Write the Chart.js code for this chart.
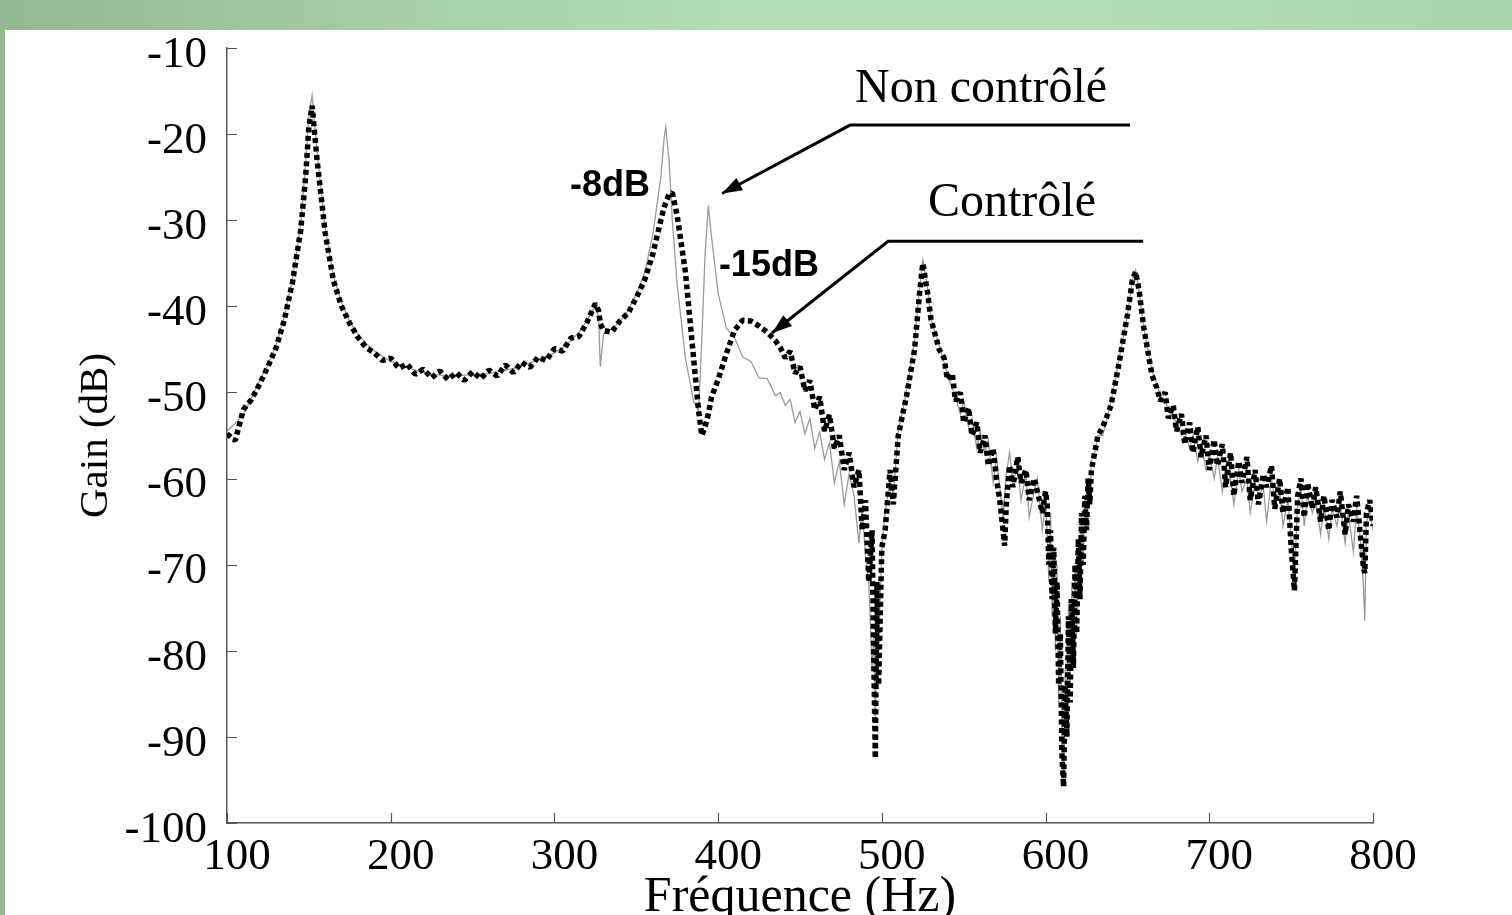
<!DOCTYPE html>
<html>
<head>
<meta charset="utf-8">
<script src="https://cdn.jsdelivr.net/npm/chart.js@4.4.1/dist/chart.umd.min.js"></script>
<style>
  html, body { margin: 0; padding: 0; width: 1512px; height: 915px; overflow: hidden; background: #fff; }
  #topbar { position: absolute; left: 0; top: 0; width: 1512px; height: 30px;
    background: linear-gradient(to right, #93b791 0%, #a9d1aa 30%, #b4deb5 50%, #b2dcb3 80%, #aad4ab 100%); }
  #leftbar { position: absolute; left: 0; top: 30px; width: 5px; height: 885px; background: #93b791; }
  #wrap { position: absolute; left: 5px; top: 30px; width: 1507px; height: 920px; }
</style>
</head>
<body>
<div id="topbar"></div>
<div id="leftbar"></div>
<div id="wrap"><canvas id="chart" width="1507" height="920"></canvas></div>
<script>
// frequencies (Hz)
const frequences = [
  100,105,110,115,120,125,130,135,140,145,
  148,150,152,155,160,165,170,175,180,185,
  190,195,200,205,210,215,220,225,230,235,
  240,245,250,255,260,265,270,275,280,285,
  290,295,300,305,310,315,320,325,327,328,
  330,335,340,345,350,355,360,365,367,368,
  370,372,375,380,385,388,390,392,394,396,
  400,405,410,415,420,425,430,435,
  438,441,444,447,450,453,456,459,462,465,468,471,474,
  477,480,483,486,488,490,492,494,495,496,497,498,500,
  502,505,507,510,515,520,523,525,528,530,535,
  538,540,543,545,548,550,553,555,558,560,563,565,568,570,
  572,574,575,576,578,580,583,585,588,590,593,595,598,600,
  601,602,603,604,605,606,607,608,609,610,611,612,613,614,615,
  616,617,618,619,620,621,622,623,624,625,626,627,628,630,632,
  635,640,645,650,653,655,657,660,665,
  668,670,673,675,678,680,683,685,688,690,
  693,695,698,700,703,705,708,710,713,715,
  718,720,723,725,728,730,733,735,738,740,
  743,745,748,750,752,754,756,758,760,763,
  765,768,770,773,775,778,780,783,785,788,
  790,792,794,795,796,798,800
];
// gain without control (dB)
const gainNonControle = [
  -54.5,-53.6,-52.6,-50.6,-48.6,-46.8,-44.5,-41.2,-36.8,-30.5,
  -23.5,-17.8,-15.5,-22.0,-31.0,-36.5,-39.6,-41.8,-43.2,-44.3,
  -45.2,-45.8,-46.4,-46.8,-47.1,-47.4,-47.7,-47.9,-48.0,-48.1,
  -48.1,-48.0,-48.0,-47.9,-47.8,-47.6,-47.4,-47.2,-46.9,-46.6,
  -46.2,-45.8,-45.4,-44.8,-44.0,-43.0,-41.6,-40.0,-41.2,-47.0,
  -43.2,-42.6,-41.8,-40.5,-38.6,-36.2,-31.8,-25.0,-20.5,-19.2,
  -23.0,-30.0,-37.5,-46.0,-51.0,-52.2,-44.0,-34.0,-28.3,-32.0,
  -38.5,-42.5,-43.6,-45.9,-46.4,-48.3,-48.4,-50.4,
  -50.0,-51.5,-50.8,-53.5,-52.2,-54.8,-53.0,-56.5,-54.6,-57.8,-55.8,-60.5,-58.0,
  -63.0,-59.5,-62.0,-67.5,-63.5,-69.0,-72.0,-82.0,-78.0,-88.0,-74.0,-80.0,-68.0,
  -64.0,-60.0,-62.0,-54.5,-50.0,-44.0,-38.0,-34.6,-38.0,-41.5,-44.5,
  -46.5,-48.0,-49.5,-50.5,-52.5,-51.0,-54.0,-53.0,-56.5,-54.5,-57.0,-55.5,-60.5,-57.5,
  -61.0,-64.5,-62.0,-59.5,-57.0,-60.5,-58.5,-62.5,-59.5,-64.5,-61.5,-60.0,-66.0,-63.0,
  -66.0,-72.0,-64.0,-76.0,-68.0,-80.0,-70.0,-86.0,-76.0,-90.0,-95.5,-82.0,-88.0,-74.0,-84.0,
  -72.0,-80.0,-70.0,-78.0,-68.0,-74.0,-64.0,-70.0,-62.0,-66.0,-60.0,-63.0,-58.0,-57.0,-55.0,
  -55.0,-51.0,-46.0,-41.0,-37.0,-35.8,-38.0,-42.5,-47.5,
  -49.0,-50.5,-51.0,-52.0,-53.0,-53.5,-55.0,-54.5,-56.5,-55.0,
  -58.0,-56.0,-59.0,-57.0,-60.0,-57.5,-61.5,-58.5,-60.0,-63.0,
  -59.0,-61.5,-60.0,-64.0,-60.5,-62.0,-61.0,-65.0,-60.0,-62.5,
  -61.5,-65.5,-62.5,-67.0,-71.0,-63.0,-61.0,-65.5,-62.0,-64.0,
  -62.5,-66.5,-63.0,-67.0,-63.5,-65.5,-63.0,-67.5,-64.0,-68.5,
  -63.5,-66.5,-72.0,-76.5,-65.0,-64.0,-66.0
];
// gain with control (dB)
const gainControle = [
  -54.8,-55.6,-52.0,-50.8,-49.0,-47.0,-44.8,-41.6,-37.2,-31.2,
  -25.0,-19.2,-16.7,-23.0,-31.5,-37.0,-40.0,-42.0,-43.6,-44.8,
  -45.4,-46.3,-46.0,-47.2,-46.7,-47.9,-47.3,-48.3,-47.5,-48.5,
  -47.7,-48.6,-47.6,-48.4,-47.4,-48.1,-46.8,-47.7,-46.5,-47.1,
  -45.9,-46.3,-44.9,-45.2,-43.7,-43.5,-41.8,-39.7,-40.5,-42.0,
  -42.8,-43.0,-41.7,-40.8,-39.0,-37.0,-34.0,-30.0,-28.5,-28.0,
  -27.0,-26.8,-29.5,-36.0,-46.0,-52.0,-55.0,-54.0,-52.5,-50.5,
  -48.5,-45.5,-42.8,-41.6,-41.7,-42.3,-43.0,-44.0,
  -44.8,-46.0,-45.2,-47.8,-47.0,-49.8,-48.6,-52.0,-50.5,-54.5,-52.6,-56.5,-55.0,
  -59.0,-57.0,-61.0,-59.0,-66.0,-62.5,-72.0,-66.0,-80.0,-92.5,-72.0,-84.0,-68.0,
  -66.0,-59.0,-63.0,-55.0,-50.5,-45.0,-38.5,-35.0,-38.5,-41.5,-45.0,
  -46.0,-48.5,-47.8,-51.0,-50.0,-53.5,-51.8,-55.0,-53.5,-57.0,-55.0,-58.5,-56.5,-60.0,
  -62.5,-66.0,-67.8,-63.0,-58.5,-61.0,-57.5,-60.5,-59.0,-62.5,-60.0,-61.5,-64.0,-61.5,
  -63.0,-70.0,-66.0,-74.0,-68.0,-78.0,-72.0,-84.0,-78.0,-92.0,-95.8,-84.0,-90.0,-76.0,-86.0,
  -74.0,-82.0,-70.0,-78.0,-67.0,-74.0,-64.0,-70.0,-62.0,-66.0,-60.0,-63.0,-59.0,-57.0,-55.0,
  -54.0,-51.5,-46.5,-41.0,-37.0,-36.0,-38.0,-42.5,-48.0,
  -49.5,-51.0,-50.0,-53.0,-51.5,-54.5,-52.5,-56.0,-53.5,-57.0,
  -54.0,-57.5,-55.0,-59.0,-55.5,-58.5,-56.0,-61.0,-57.0,-62.0,
  -58.0,-60.5,-57.5,-62.5,-59.0,-63.0,-59.5,-61.0,-58.5,-63.5,
  -60.0,-64.0,-61.0,-68.0,-73.0,-62.0,-60.0,-64.5,-60.5,-63.5,
  -61.0,-65.0,-62.0,-66.0,-62.5,-64.5,-61.5,-66.5,-63.0,-65.0,
  -62.0,-66.0,-70.0,-71.0,-64.0,-62.5,-65.5
];

const serif = "'Liberation Serif', 'Times New Roman', serif";
const sans = "'Liberation Sans', Arial, sans-serif";

// draw the small tick marks inside the plot
const insideTicks = {
  id: "insideTicks",
  afterDraw(chart) {
    const ctx = chart.ctx;
    const xs = chart.scales.x, ys = chart.scales.y;
    const area = chart.chartArea;
    ctx.save();
    ctx.strokeStyle = "#555";
    ctx.lineWidth = 1.2;
    ctx.beginPath();
    xs.ticks.forEach(t => {
      const px = Math.round(xs.getPixelForValue(t.value)) + 0.5;
      ctx.moveTo(px, area.bottom);
      ctx.lineTo(px, area.bottom - 10);
    });
    ys.ticks.forEach(t => {
      const py = Math.round(ys.getPixelForValue(t.value)) + 0.5;
      ctx.moveTo(area.left, py);
      ctx.lineTo(area.left + 10, py);
    });
    ctx.stroke();
    ctx.restore();
  }
};

// labels and arrows pointing to the curves
const notes = {
  id: "notes",
  afterDraw(chart) {
    const ctx = chart.ctx;
    const xs = chart.scales.x, ys = chart.scales.y;
    const X = v => xs.getPixelForValue(v);
    const Y = v => ys.getPixelForValue(v);

    function arrow(pts) {
      ctx.beginPath();
      ctx.moveTo(X(pts[0][0]), Y(pts[0][1]));
      for (let i = 1; i < pts.length; i++) ctx.lineTo(X(pts[i][0]), Y(pts[i][1]));
      ctx.stroke();
      const n = pts.length;
      const x1 = X(pts[n - 2][0]), y1 = Y(pts[n - 2][1]);
      const x2 = X(pts[n - 1][0]), y2 = Y(pts[n - 1][1]);
      const a = Math.atan2(y2 - y1, x2 - x1);
      ctx.beginPath();
      ctx.moveTo(x2, y2);
      ctx.lineTo(x2 - 20 * Math.cos(a) + 7 * Math.sin(a), y2 - 20 * Math.sin(a) - 7 * Math.cos(a));
      ctx.lineTo(x2 - 20 * Math.cos(a) - 7 * Math.sin(a), y2 - 20 * Math.sin(a) + 7 * Math.cos(a));
      ctx.closePath();
      ctx.fill();
    }

    ctx.save();
    ctx.fillStyle = "#000";
    ctx.strokeStyle = "#000";
    ctx.lineWidth = 3;
    ctx.textAlign = "center";
    ctx.textBaseline = "middle";

    ctx.font = "48px " + serif;
    ctx.fillText("Non contrôlé", X(560.6), Y(-14.8));
    ctx.fillText("Contrôlé", X(579.5), Y(-28.0));

    arrow([[651.6, -18.95], [480.6, -18.95], [402.4, -26.9]]);
    arrow([[659.6, -32.44], [503.8, -32.44], [432.9, -43.1]]);

    ctx.font = "bold 36px " + sans;
    ctx.fillText("-8dB", X(334), Y(-26.05));
    ctx.fillText("-15dB", X(431), Y(-35.35));
    ctx.restore();
  }
};

const ctx = document.getElementById("chart");
const chart = new Chart(ctx, {
  type: "line",
  data: {
    datasets: [
      {
        label: "Non contrôlé",
        data: frequences.map((f, i) => ({ x: f, y: gainNonControle[i] })),
        borderColor: "#9a9a9a",
        borderWidth: 1.3,
        pointRadius: 0,
        tension: 0,
        order: 1
      },
      {
        label: "Contrôlé",
        data: frequences.map((f, i) => ({ x: f, y: gainControle[i] })),
        borderColor: "#000",
        borderWidth: 5.5,
        borderDash: [5, 3.5],
        borderCapStyle: "butt",
        borderJoinStyle: "bevel",
        pointRadius: 0,
        tension: 0,
        order: 0
      }
    ]
  },
  options: {
    responsive: false,
    animation: false,
    devicePixelRatio: 1,
    layout: { padding: { top: 18, right: 139, bottom: 0, left: 0 } },
    plugins: { legend: { display: false }, tooltip: { enabled: false } },
    scales: {
      x: {
        type: "linear",
        min: 100,
        max: 800,
        grid: { display: false, drawTicks: false },
        border: { display: true, color: "#555", width: 1.5 },
        ticks: {
          stepSize: 100,
          color: "#000",
          padding: 7,
          labelOffset: 10,
          maxRotation: 0,
          font: { family: serif, size: 45 }
        },
        title: {
          display: true,
          text: "Fréquence (Hz)",
          color: "#000",
          font: { family: serif, size: 50 },
          padding: { top: 0, bottom: 22 }
        },
        afterFit(scale) {
          scale.height = 127;
          scale.paddingLeft = 0;
          scale.paddingRight = 0;
        }
      },
      y: {
        min: -100,
        max: -10,
        grid: { display: false, drawTicks: false },
        border: { display: true, color: "#555", width: 1.5 },
        ticks: {
          stepSize: 10,
          color: "#000",
          padding: 20,
          labelOffset: 7,
          font: { family: serif, size: 45 }
        },
        title: {
          display: true,
          text: "Gain (dB)",
          color: "#000",
          font: { family: serif, size: 41 },
          padding: { top: 67, bottom: 0 }
        },
        afterFit(scale) {
          scale.width = 222;
          scale.paddingTop = 0;
          scale.paddingBottom = 0;
        }
      }
    }
  },
  plugins: [insideTicks, notes]
});
</script>
</body>
</html>
